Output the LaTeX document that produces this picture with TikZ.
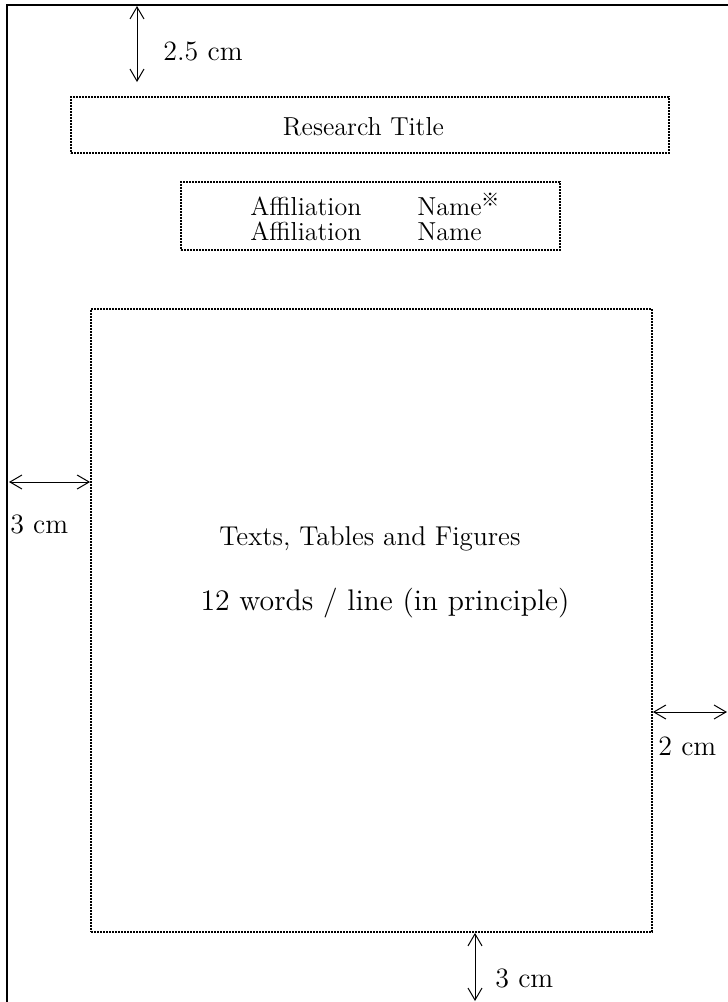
\documentclass[tikz,border=0pt]{standalone}
\usepackage{fontspec}
\newfontfamily\refmark{Noto Sans CJK JP}
\usetikzlibrary{arrows.meta,positioning}
\tikzset{
    frame/.style={line width=1.3pt, line cap=rect},
    dotbox/.style={draw, line width=0.9pt, dash pattern=on 0.9pt off 0.6pt, inner sep=0pt},
    dimarrow/.style={{Straight Barb[length=6pt,width=7pt]}-{Straight Barb[length=6pt,width=7pt]}, line width=0.5pt},
    dimlabel/.style={font=\fontsize{14}{16}\selectfont, inner sep=0pt, anchor=base west},
    bodytext/.style={inner sep=0pt, anchor=base}
}
\begin{document}
\begin{tikzpicture}[x=0.5pt, y=-0.5pt]
    \useasboundingbox (0,0) rectangle (728,1002);
    % page edge
    \draw[frame] (7,1002) -- (7,5) -- (728,5);
    % boxes
    \node[dotbox, minimum width=299pt, minimum height=28pt] (titlebox) at (370,125) {};
    \node[dotbox, minimum width=189.5pt, minimum height=34pt] (affilbox) at (370.5,216) {};
    \node[dotbox, minimum width=280.5pt, minimum height=311.5pt] (mainbox) at (371.5,620.5) {};
    % texts
    \node[bodytext, font=\fontsize{13}{15}\selectfont] (title) at (363.5,135) {Research Title};
    \node[bodytext, anchor=base west, font=\fontsize{13}{13}\selectfont] (affilone) at (250,215) {Affiliation};
    \node[bodytext, anchor=base west, font=\fontsize{13}{13}\selectfont] (nameone) at (417,215) {Name\textsuperscript{\refmark ※}};
    \node[bodytext, anchor=base west, font=\fontsize{13}{13}\selectfont] (affiltwo) at (250,240) {Affiliation};
    \node[bodytext, anchor=base west, font=\fontsize{13}{13}\selectfont] (nametwo) at (417,240) {Name};
    \node[bodytext, font=\fontsize{13.6}{16}\selectfont] (content) at (370,545) {Texts, Tables and Figures};
    \node[bodytext, font=\fontsize{14.9}{17}\selectfont] (rule) at (385,610) {12 words / line (in principle)};
    % margins
    \coordinate (topend) at (137,6);
    \coordinate (topgap) at (137,82);
    \coordinate (leftend) at (9,482);
    \coordinate (rightend) at (727,712);
    \coordinate (bottomend) at (475,1001);
    \draw[dimarrow] (topend) -- (topgap);
    \draw[dimarrow] (leftend) -- (leftend -| mainbox.west);
    \draw[dimarrow] (rightend -| mainbox.east) -- (rightend);
    \draw[dimarrow] (bottomend |- mainbox.south) -- (bottomend);
    \node[dimlabel] (toplabel) at (163,60) {2.5 cm};
    \node[dimlabel] (leftlabel) at (10,533) {3 cm};
    \node[dimlabel] (rightlabel) at (658,755) {2 cm};
    \node[dimlabel] (bottomlabel) at (495,987) {3 cm};
\end{tikzpicture}
\end{document}
